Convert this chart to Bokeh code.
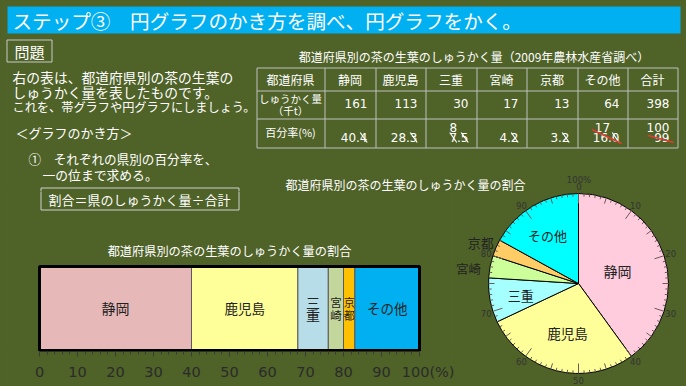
import math
from bokeh.plotting import figure
from bokeh.layouts import column, row
from bokeh.models import Range1d, LinearAxis, SingleIntervalTicker, ColumnDataSource
from bokeh.embed import file_html
from bokeh.resources import INLINE
from bokeh.core.properties import value

# ---------------- data ----------------
prefectures = ["静岡", "鹿児島", "三重", "宮崎", "京都", "その他"]
harvest_kt = [161, 113, 30, 17, 13, 64]
harvest_total = 398
percent_calc = ["40.4", "28.3", "7.5", "4.2", "3.2", "16.0"]
percent_calc_total = "99"
percent_rounded = [40, 28, 8, 4, 3, 17]
percent_rounded_total = 100
band_tick_step = 10
pie_tick_labels = [10, 20, 30, 40, 50, 60, 70, 80, 90]

# ---------------- style ----------------
BG = "#4F6228"
BG_STYLE = {"background-color": BG}
JP = value("Noto Sans CJK JP")
NUM = value("DejaVu Sans")
WHITE = "#FFFFFF"
DARK = "#222222"
band_colors = ["#E6B9B8", "#FFFF99", "#B7DEE8", "#C3D69B", "#FFC000", "#00B0F0"]
pie_colors = ["#FFCCDD", "#FFFF99", "#A6FFFF", "#CCFF99", "#FFCC66", "#00FFFF"]
band_label_size = [14, 13.5, 14, 11.5, 11, 13.5]
band_label_vertical = [False, False, True, True, True, False]
pie_label_size = [14, 13.5, 13, 12.5, 13, 13]
pie_label_r = [41, 51, 59, 111, 106, 57]
pie_label_nudge = [0, -2, -1, -3, -0.7, -2.4]

starts = [sum(percent_rounded[:i]) for i in range(len(percent_rounded))]
ends = [s + v for s, v in zip(starts, percent_rounded)]
mids = [(s + e) / 2 for s, e in zip(starts, ends)]


def make_fig(w, h, xr, yr, **kw):
    f = figure(width=w, height=h, x_range=Range1d(*xr), y_range=Range1d(*yr),
               output_backend="svg", toolbar_location=None, title=None,
               x_axis_type=None, y_axis_type=None, styles=BG_STYLE, **kw)
    f.background_fill_color = BG
    f.border_fill_color = BG
    f.outline_line_color = None
    return f


def txt(f, x, y, s, size, color=WHITE, align="left", font=JP, baseline="middle", **kw):
    f.text(x=[x], y=[y], text=[s], text_font=font, text_font_size=f"{size}px",
           text_color=color, text_align=align, text_baseline=baseline, **kw)


def num_width(s, size=12):
    return sum((0.636 if c.isdigit() else 0.318) * size for c in s)


BOX = dict(left=[40.5], right=[238.5], top=[187.5], bottom=[209.5])

# ================= top figure (page y 0..191) =================
A = make_fig(686, 191, (0, 686), (191, 0), min_border=0)

A.quad(left=[7], right=[680], top=[6], bottom=[33], fill_color="#00B0F0", line_color=None)
txt(A, 12, 20, "ステップ③　円グラフのかき方を調べ、円グラフをかく。", 19.6)

A.quad(left=[6.5], right=[51.5], top=[39.5], bottom=[61.5], fill_color=None,
       line_color="#C8C8C8", line_width=1)
txt(A, 29, 50.5, "問題", 15, align="center")

txt(A, 12, 76, "右の表は、都道府県別の茶の生葉の", 13.8)
txt(A, 12, 91, "しゅうかく量を表したものです。", 13.8)
txt(A, 12, 106.5, "これを、帯グラフや円グラフにしましょう。", 12.2)
txt(A, 15, 132, "＜グラフのかき方＞", 13)
txt(A, 28, 158, "①　それぞれの県別の百分率を、", 12.6)
txt(A, 42, 174, "一の位まで求める。", 12.8)

# formula box (upper part; continues in the band figure)
A.quad(fill_color=None, line_color="#D0D0D0", line_width=1, **BOX)

# table
col_x = [256, 324, 375, 425, 476, 526, 577, 627, 677]
row_y = [67, 90, 118, 147]
txt(A, 473.5, 55.5, "都道府県別の茶の生葉のしゅうかく量（2009年農林水産省調べ）", 12, align="center")
A.segment(x0=[x + .5 for x in col_x], y0=[row_y[0] + .5] * len(col_x),
          x1=[x + .5 for x in col_x], y1=[row_y[-1] + .5] * len(col_x),
          line_color="#C0C0C0", line_width=1)
A.segment(x0=[col_x[0] + .5] * len(row_y), y0=[y + .5 for y in row_y],
          x1=[col_x[-1] + .5] * len(row_y), y1=[y + .5 for y in row_y],
          line_color="#C0C0C0", line_width=1)

headers = ["都道府県"] + prefectures + ["合計"]
centers = [(col_x[j] + col_x[j + 1]) / 2 for j in range(len(headers))]
A.text(x=centers, y=[78.5] * len(headers), text=headers, text_font=JP,
       text_font_size="12px", text_color=WHITE, text_align="center", text_baseline="middle")
txt(A, centers[0], 98, "しゅうかく量", 10.5, align="center")
txt(A, centers[0], 110, "（千t）", 10.5, align="center")
txt(A, centers[0], 131, "百分率(%)", 11, align="center")

right_x = [col_x[j + 1] - 8 for j in range(1, len(headers))]
amount_txt = [str(v) for v in harvest_kt] + [str(harvest_total)]
A.text(x=right_x, y=[103] * len(amount_txt), text=amount_txt, text_font=NUM,
       text_font_size="12px", text_color=WHITE, text_align="right", text_baseline="middle")
calc_txt = percent_calc + [percent_calc_total]
A.text(x=right_x, y=[137] * len(calc_txt), text=calc_txt, text_font=NUM,
       text_font_size="12px", text_color=WHITE, text_align="right", text_baseline="middle")

# hand corrections: strikes over rounded-off digits, corrected values above
sx0, sy0, sx1, sy1 = [], [], [], []
for i, s in enumerate(calc_txt[:-1]):
    xr = right_x[i]
    c = xr - 3.8
    sx0.append(c - 3.5); sy0.append(132); sx1.append(c + 3.5); sy1.append(142)
    if i == 2:
        c2 = xr - num_width(s[1:]) - 3.8
        sx0.append(c2 - 3.5); sy0.append(132); sx1.append(c2 + 3.5); sy1.append(142)
A.segment(x0=sx0, y0=sy0, x1=sx1, y1=sy1, line_color=WHITE, line_width=1.2)

fix_txt = [str(percent_rounded[2]), str(percent_rounded[5]), str(percent_rounded_total)]
fix_x = [right_x[2] - num_width(calc_txt[2]), right_x[5] - num_width(calc_txt[5]) + 2]
A.text(x=fix_x, y=[126.5] * 2, text=fix_txt[:2], text_font=NUM, text_font_size="12px",
       text_color=WHITE, text_align="left", text_baseline="middle")
A.text(x=[right_x[6]], y=[126.5], text=[fix_txt[2]], text_font=NUM, text_font_size="12px",
       text_color=WHITE, text_align="right", text_baseline="middle")
red_x0 = [right_x[5] - num_width(calc_txt[5]) - 1, right_x[6] - num_width(calc_txt[6]) - 6]
red_x1 = [right_x[5] + 2, right_x[6] + 4]
A.segment(x0=red_x0, y0=[129, 135], x1=red_x1, y1=[143, 142], line_color="#E03C31", line_width=1.6)

# pie chart title and the top scale labels
txt(A, 405, 183.5, "都道府県別の茶の生葉のしゅうかく量の割合", 12, align="center")
txt(A, 578.5, 179.5, f"{percent_rounded_total}%", 8.5, color="#333333", align="center", font=NUM)
txt(A, 578.5, 186, "0", 8.5, color="#333333", align="center", font=NUM)

# ================= band chart figure (page x 0..454, y 191..386) =================
BW = 454
BAND_L, BAND_R = 39, 419          # page x of 0 % and 100 %
BAR_TOP, BAR_BOT = 266, 350
scale = (BAND_R - BAND_L) / percent_rounded_total
B = figure(width=BW, height=195,
           x_range=Range1d(-BAND_L / scale, (BW - BAND_L) / scale),
           y_range=Range1d(351, 191),
           output_backend="svg", toolbar_location=None, title=None,
           x_axis_type=None, y_axis_type=None, styles=BG_STYLE,
           min_border_left=0, min_border_right=0, min_border_top=0, min_border_bottom=35)
B.background_fill_color = BG
B.border_fill_color = BG
B.outline_line_color = None
B.extra_x_ranges = {"px": Range1d(0, BW)}

B.quad(fill_color=None, line_color="#D0D0D0", line_width=1, x_range_name="px", **BOX)
txt(B, 48, 198.5, "割合＝県のしゅうかく量÷合計", 13, x_range_name="px")
txt(B, 229, 250, "都道府県別の茶の生葉のしゅうかく量の割合", 12.2, align="center", x_range_name="px")

band_src = ColumnDataSource(dict(left=starts, right=ends, color=band_colors, name=prefectures))
B.quad(left="left", right="right", bottom=BAR_BOT, top=BAR_TOP, fill_color="color",
       line_color="#5A5A5A", line_width=1, source=band_src)
B.quad(left=[0], right=[percent_rounded_total], bottom=[BAR_BOT], top=[BAR_TOP],
       fill_color=None, line_color="black", line_width=3)
bar_mid = (BAR_TOP + BAR_BOT) / 2 - 0.5
hx, hy, ht, hs = [], [], [], []
for i, name in enumerate(prefectures):
    if band_label_vertical[i]:
        n = len(name)
        for k, ch in enumerate(name):
            hx.append(mids[i]); hy.append(bar_mid - (n - 1) / 2 * 13 + k * 13)
            ht.append(ch); hs.append(f"{band_label_size[i]}px")
    else:
        hx.append(mids[i]); hy.append(bar_mid); ht.append(name); hs.append(f"{band_label_size[i]}px")
B.text(x=hx, y=hy, text=ht, text_font_size=hs, text_font=JP, text_color=DARK,
       text_align="center", text_baseline="middle")

ax = LinearAxis(ticker=SingleIntervalTicker(interval=band_tick_step, num_minor_ticks=5),
                bounds=(0, percent_rounded_total))
ax.axis_line_color = None
ax.major_tick_out = 5
ax.major_tick_in = 0
ax.minor_tick_out = 3
ax.minor_tick_in = 0
ax.major_tick_line_color = "#3A3A3A"
ax.minor_tick_line_color = "#3A3A3A"
ax.major_label_text_font = "DejaVu Sans"
ax.major_label_text_font_size = "14.5px"
ax.major_label_text_color = "#2B2B2B"
ax.major_label_standoff = 7
ax.major_label_overrides = {percent_rounded_total: "\u2007\u2007\u2007" + str(percent_rounded_total) + "(%)"}
B.add_layout(ax, "below")

# ================= pie chart (page x 454..686, y 191..386) =================
C = make_fig(232, 195, (454, 686), (0, 195), min_border=0)
cx, cy, R = 578, 386 - 283, 90
tot = percent_rounded_total
pie_src = ColumnDataSource(dict(
    start=[math.pi / 2 - 2 * math.pi * e / tot for e in ends],
    end=[math.pi / 2 - 2 * math.pi * s / tot for s in starts],
    color=pie_colors))
C.wedge(x=cx, y=cy, radius=R, start_angle="start", end_angle="end", direction="anticlock",
        fill_color="color", line_color="black", line_width=1, source=pie_src)
tx0, ty0, tx1, ty1 = [], [], [], []
for k in range(tot):
    th = 2 * math.pi * k / tot
    L = 10 if k % 10 == 0 else (6 if k % 5 == 0 else 3)
    tx0.append(cx + R * math.sin(th)); ty0.append(cy + R * math.cos(th))
    tx1.append(cx + (R - L) * math.sin(th)); ty1.append(cy + (R - L) * math.cos(th))
C.segment(x0=tx0, y0=ty0, x1=tx1, y1=ty1, line_color="#6A5A5A", line_width=1)
lab_r = 97
C.text(x=[cx + lab_r * math.sin(2 * math.pi * t / tot) for t in pie_tick_labels],
       y=[cy + lab_r * math.cos(2 * math.pi * t / tot) for t in pie_tick_labels],
       text=[str(t) for t in pie_tick_labels], text_font=NUM, text_font_size="8.5px",
       text_color="#333333", text_align="center", text_baseline="middle")
px, py = [], []
for i in range(len(prefectures)):
    th = 2 * math.pi * mids[i] / tot + math.radians(pie_label_nudge[i])
    px.append(cx + pie_label_r[i] * math.sin(th))
    py.append(cy + pie_label_r[i] * math.cos(th))
C.text(x=px, y=py, text=prefectures, text_font=JP,
       text_font_size=[f"{s}px" for s in pie_label_size], text_color=DARK,
       text_align="center", text_baseline="middle")

layout = column(A, row(column(B, styles=BG_STYLE), column(C, styles=BG_STYLE), styles=BG_STYLE),
                styles=BG_STYLE)

html = file_html(layout, INLINE, title="円グラフのかき方")
html = html.replace("<body>", f'<body style="margin:0;background-color:{BG};overflow:hidden">', 1)
html = html.replace("<html", f'<html style="background-color:{BG}"', 1)
open("out.html", "w").write(html)
